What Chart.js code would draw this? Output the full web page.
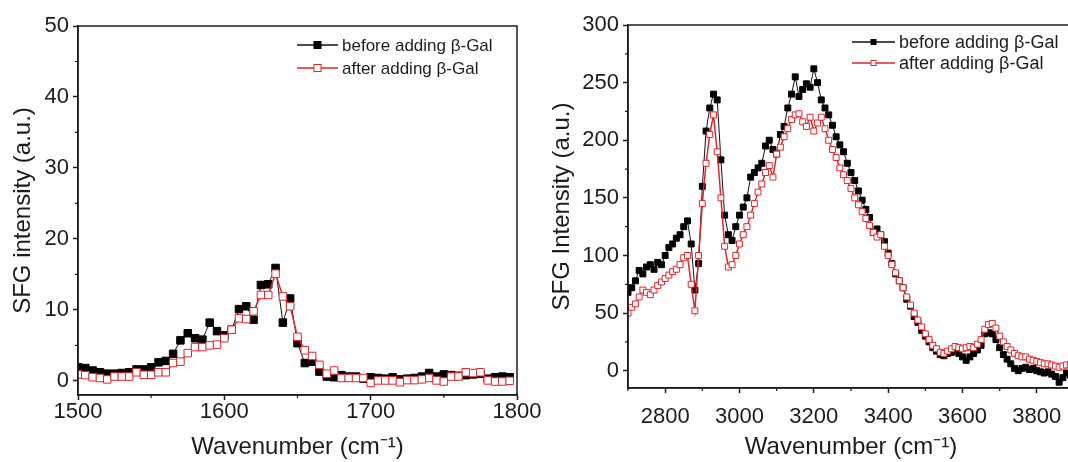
<!DOCTYPE html>
<html>
<head>
<meta charset="utf-8">
<title>SFG spectra before / after adding β-Gal</title>
<script src="https://cdn.jsdelivr.net/npm/chart.js"></script>
<style>
html,body{margin:0;padding:0;background:#fff;overflow:hidden;width:1068px;height:462px}
canvas{position:absolute;top:0}
#left{left:0}
#right{left:540px}
</style>
</head>
<body>
<canvas id="left" width="545" height="462"></canvas>
<canvas id="right" width="540" height="462"></canvas>
<script>
// ===== DATA: left panel (1500-1800 cm-1) =====
const waveL=[1500,1505,1510,1515,1520,1525,1530,1535,1540,1545,1550,1555,1560,1565,1570,1575,1580,1585,1590,1595,
1600,1605,1610,1615,1620,1625,1630,1635,1640,1645,1650,1655,1660,1665,1670,1675,1680,1685,1690,1695,
1700,1705,1710,1715,1720,1725,1730,1735,1740,1745,1750,1755,1760,1765,1770,1775,1780,1785,1790,1795]
const beforeL=[1.9,1.8,1.45,1.2,1.0,1.0,1.1,1.2,1.6,1.6,1.9,2.6,2.8,3.8,5.7,6.7,6.0,5.8,8.2,7.0,
6.4,7.2,10.1,10.5,8.6,13.5,13.6,15.9,8.2,11.6,5.3,2.5,2.7,1.3,0.6,0.5,0.8,0.6,0.6,0.3,
0.5,0.4,0.3,0.5,0.2,0.3,0.4,0.6,1.1,0.6,0.9,0.8,0.7,0.8,0.9,1.0,0.3,0.5,0.6,0.5]
const afterL=[0.9,0.8,0.5,0.4,0.2,0.6,0.6,0.6,1.2,0.85,0.85,1.2,1.2,2.5,2.7,3.9,4.75,4.75,5.0,5.1,
6.0,7.2,8.8,8.7,9.8,12.1,12.1,15.1,11.9,10.5,6.2,4.3,3.5,2.25,1.0,1.45,0.4,0.4,0.4,0.4,
-0.3,0.05,0.05,0.05,-0.2,0.1,0.1,0.2,0.4,0.05,-0.1,0.6,0.6,1.2,1.1,1.2,0.05,-0.1,-0.1,0.0]
const ticksXL=[1500,1600,1700,1800]
const minorXL=[1550,1650,1750]
const ticksYL=[0,10,20,30,40,50]
const minorYL=[5,15,25,35,45]

// ===== DATA: right panel (2700-3900 cm-1) =====
const waveR=[2700,2710,2720,2730,2740,2750,2760,2770,2780,2790,2800,2810,2820,2830,2840,2850,2860,2870,2880,2890,
2900,2910,2920,2930,2940,2950,2960,2970,2980,2990,3000,3010,3020,3030,3040,3050,3060,3070,3080,3090,
3100,3110,3120,3130,3140,3150,3160,3170,3180,3190,3200,3210,3220,3230,3240,3250,3260,3270,3280,3290,
3300,3310,3320,3330,3340,3350,3360,3370,3380,3390,3400,3410,3420,3430,3440,3450,3460,3470,3480,3490,
3500,3510,3520,3530,3540,3550,3560,3570,3580,3590,3600,3610,3620,3630,3640,3650,3660,3670,3680,3690,
3700,3710,3720,3730,3740,3750,3760,3770,3780,3790,3800,3810,3820,3830,3840,3850,3860,3870,3880,3890]
const beforeR=[68,72,78,87,84,90,92,88,94,92,100,107,110,115,118,125,130,110,70,93,
160,208,228,240,235,183,135,118,113,125,135,142,150,168,172,176,180,195,200,192,
188,205,212,228,240,255,238,244,249,246,262,250,235,228,222,213,203,196,190,180,
172,165,156,148,140,133,120,123,118,112,102,93,84,78,72,62,56,47,42,35,
30,25,20,17,14,13,15,16,18,15,12,9,12,15,18,22,32,33,32,27,
20,14,10,6,2,0,2,3,1,2,0,-1,-2,-1,-3,-5,-10,-6,-2,-4]
const afterR=[50,55,58,64,70,68,66,70,74,77,80,83,86,88,92,98,100,75,52,100,
145,180,205,222,190,150,108,90,92,100,110,118,125,135,145,155,162,172,178,168,
188,194,203,210,218,222,223,216,212,220,208,215,220,210,200,192,185,176,170,165,
158,150,144,138,132,126,120,116,118,108,100,92,85,78,72,64,57,50,44,38,
32,27,22,19,16,15,17,19,21,20,19,20,21,20,23,27,36,40,41,37,
30,25,21,18,15,13,12,12,10,9,8,7,6,6,5,4,3,4,5,5]
const ticksXR=[2800,3000,3200,3400,3600,3800]
const minorXR=[2700,2900,3100,3300,3500,3700]
const ticksYR=[0,50,100,150,200,250,300]
const minorYR=[25,75,125,175,225,275]

const labels=["before adding β-Gal","after adding β-Gal"]
const FONT="'Liberation Sans', Arial, sans-serif"
const INK="#1c1c1c"
const RED="#e0262b"

// ===== PLUGINS =====
const frame={
  id:"frame",
  afterDraw(chart,args,o){
    const a=chart.chartArea, ctx=chart.ctx
    ctx.save()
    ctx.strokeStyle=INK; ctx.lineWidth=1.5
    ctx.strokeRect(a.left,a.top,a.right-a.left,a.bottom-a.top)
    // minor ticks, outward
    ctx.lineWidth=1.2
    const xs=chart.scales.x, ys=chart.scales.y
    ctx.beginPath()
    ;(o.x||[]).forEach(v=>{const p=xs.getPixelForValue(v);ctx.moveTo(p,a.bottom);ctx.lineTo(p,a.bottom+3)})
    ;(o.y||[]).forEach(v=>{const p=ys.getPixelForValue(v);ctx.moveTo(a.left,p);ctx.lineTo(a.left-3,p)})
    ctx.stroke()
    ctx.restore()
  }
}
const lineLegend={
  id:"lineLegend",
  afterDraw(chart,args,o){
    const ctx=chart.ctx
    ctx.save()
    ctx.font=o.size+"px "+FONT
    ctx.textBaseline="middle"
    chart.data.datasets.forEach((d,i)=>{
      const y=o.y+i*o.dy
      ctx.strokeStyle=d.borderColor; ctx.lineWidth=1.5
      ctx.beginPath(); ctx.moveTo(o.x,y); ctx.lineTo(o.x+o.len,y); ctx.stroke()
      const m=o.x+o.len/2, s=o.mark
      ctx.fillStyle=d.pointBackgroundColor
      ctx.fillRect(m-s/2,y-s/2,s,s)
      ctx.strokeStyle=d.pointBorderColor; ctx.lineWidth=1
      ctx.strokeRect(m-s/2,y-s/2,s,s)
      ctx.fillStyle=INK
      ctx.fillText(d.label,o.x+o.len+4,y+1)
    })
    ctx.restore()
  }
}

function panel(id,cfg){
  const datasets=[
    {label:labels[0],data:cfg.wave.map((w,i)=>({x:w,y:cfg.before[i]})),
     borderColor:"#111",borderWidth:1,pointStyle:"rect",pointRadius:cfg.r,
     pointBackgroundColor:"#000",pointBorderColor:"#000",pointBorderWidth:1,order:2},
    {label:labels[1],data:cfg.wave.map((w,i)=>({x:w,y:cfg.after[i]})),
     borderColor:RED,borderWidth:1.5,pointStyle:"rect",pointRadius:cfg.r,
     pointBackgroundColor:"#fff",pointBorderColor:RED,pointBorderWidth:1,order:1}
  ]
  new Chart(document.getElementById(id),{
    type:"line",
    data:{datasets},
    options:{
      responsive:false,animation:false,
      layout:{padding:cfg.pad},
      plugins:{legend:{display:false},tooltip:{enabled:false},
        frame:{x:cfg.minorX,y:cfg.minorY},
        lineLegend:cfg.legend},
      scales:{
        x:{type:"linear",min:cfg.xmin,max:cfg.xmax,
          afterFit:s=>{s.height=cfg.xh},
          afterBuildTicks:s=>{s.ticks=cfg.ticksX.map(v=>({value:v}))},
          grid:{drawOnChartArea:false,tickLength:5,tickColor:INK,tickWidth:1.5},
          border:{color:INK,width:1.5},
          ticks:{color:INK,font:{family:FONT,size:22,lineHeight:1},padding:cfg.xpad,maxRotation:0,autoSkip:false,
            callback:v=>String(v)},
          title:{display:true,text:"Wavenumber (cm⁻¹)",color:INK,font:{family:FONT,size:24},padding:{top:0,bottom:0}}},
        y:{min:cfg.ymin,max:cfg.ymax,
          afterFit:s=>{s.width=cfg.yw},
          afterBuildTicks:s=>{s.ticks=cfg.ticksY.map(v=>({value:v}))},
          grid:{drawOnChartArea:false,tickLength:5,tickColor:INK,tickWidth:1.5},
          border:{color:INK,width:1.5},
          ticks:{color:INK,font:{family:FONT,size:22},padding:4,autoSkip:false,callback:v=>String(v)},
          title:{display:true,text:cfg.ytitle,color:INK,font:{family:FONT,size:24},padding:{top:cfg.ytp,bottom:0}}}
      }
    },
    plugins:[frame,lineLegend]
  })
}

panel("left",{wave:waveL,before:beforeL,after:afterL,r:5.3,
  xmin:1500,xmax:1800,ymin:-2,ymax:50,ticksX:ticksXL,ticksY:ticksYL,minorX:minorXL,minorY:minorYL,
  pad:{left:0,top:26,right:28,bottom:0},xh:67,yw:78,xpad:1,ytp:9,
  ytitle:"SFG intensity (a.u.)",
  legend:{x:297,y:45,dy:23,len:41,mark:7,size:17}})

panel("right",{wave:waveR,before:beforeR,after:afterR,r:4.2,
  xmin:2700,xmax:3900,ymin:-15,ymax:300,ticksX:ticksXR,ticksY:ticksYR,minorX:minorXR,minorY:minorYR,
  pad:{left:0,top:25,right:6,bottom:0},xh:74,yw:88,xpad:13,ytp:8,
  ytitle:"SFG Intensity (a.u.)",
  legend:{x:312,y:42,dy:21,len:43,mark:5,size:18}})
</script>
</body>
</html>
